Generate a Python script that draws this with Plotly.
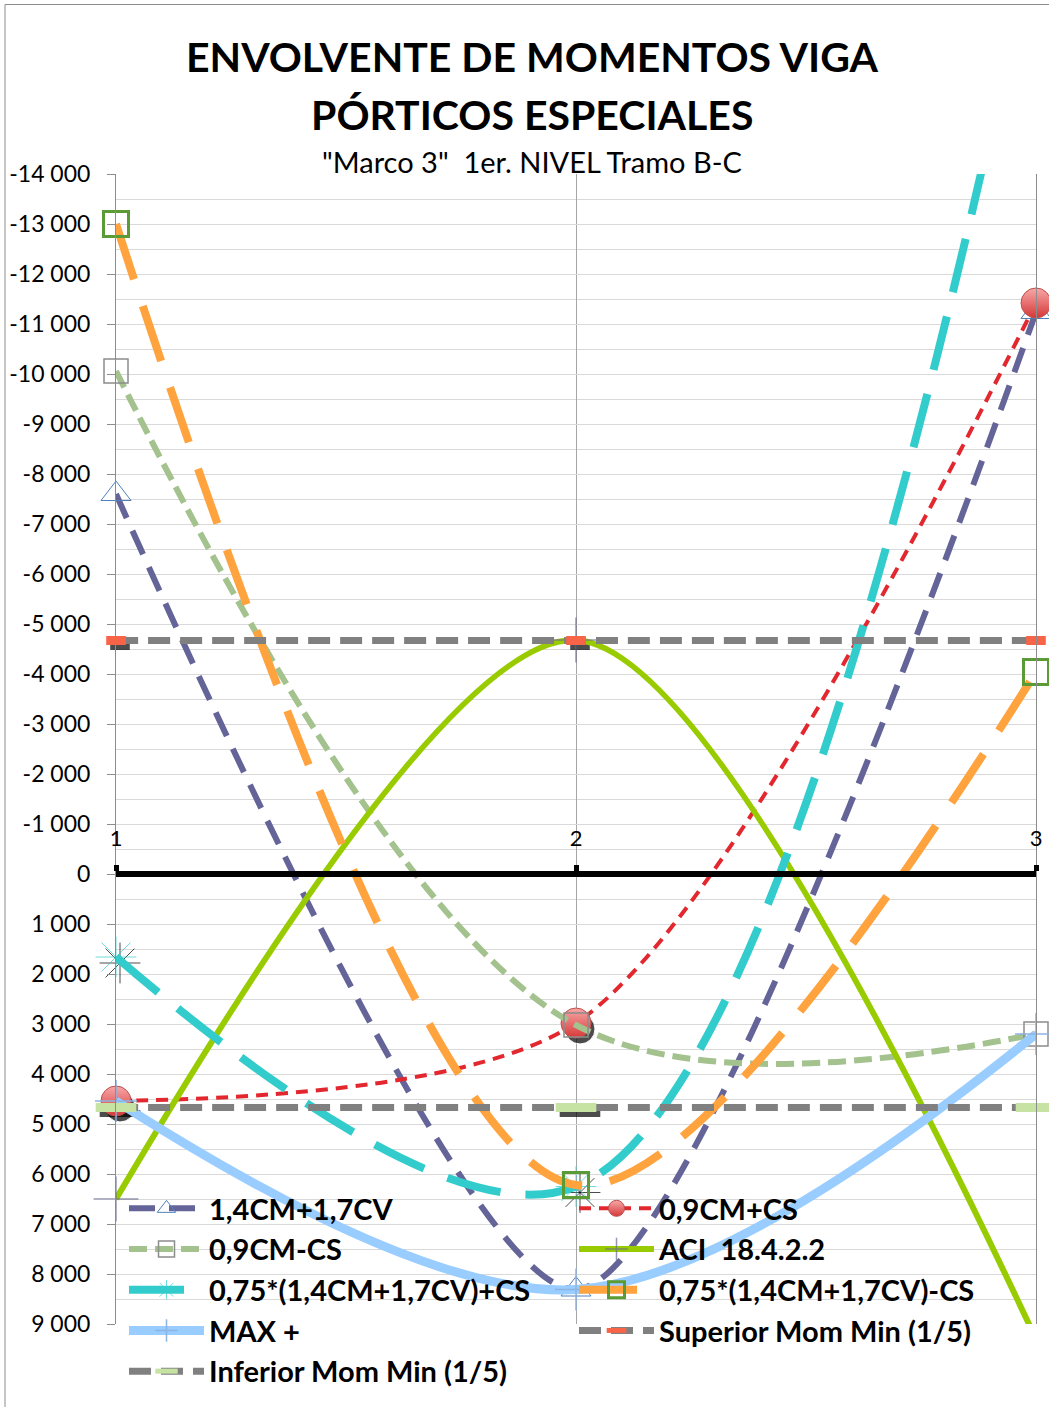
import plotly.graph_objects as go

# ---- data: moment envelope at the three stations of the span ----
stations = [1, 2, 3]
m_14cm_17cv = [-7600, 8310, -11240]          # 1,4CM+1,7CV
m_09cm_mas_cs = [4540, 2980, -11420]         # 0,9CM+CS
m_09cm_menos_cs = [-10060, 3020, 3200]       # 0,9CM-CS
m_aci = [6500, -4680, 9300]                  # ACI 18.4.2.2
m_075_mas_cs = [1660, 6250, -19000]          # 0,75*(1,4CM+1,7CV)+CS
m_075_menos_cs = [-13000, 6220, -4040]       # 0,75*(1,4CM+1,7CV)-CS
m_max_pos = [4540, 8310, 3200]               # MAX +
m_sup_min = [-4670, -4670, -4670]            # Superior Mom Min (1/5)
m_inf_min = [4670, 4670, 4670]               # Inferior Mom Min (1/5)

series_names = [
    "1,4CM+1,7CV", "0,9CM+CS", "0,9CM-CS", "ACI  18.4.2.2",
    "0,75*(1,4CM+1,7CV)+CS", "0,75*(1,4CM+1,7CV)-CS", "MAX +",
    "Superior Mom Min (1/5)", "Inferior Mom Min (1/5)",
]

y_ticks = list(range(-14000, 9001, 1000))
y_ticktext = [f"{v:,}".replace(",", " ") for v in y_ticks]
x_ticks = [1, 2, 3]
x_ticktext = ["1", "2", "3"]

# ---- geometry ----
W, H = 1049, 1407
ML, MR, MT, MB = 116, 13, 174, 83
PW, PH = W - ML - MR, H - MT - MB
Y_TOP, Y_BOT = -14000, 9000
X_MIN, X_MAX = 1, 3

def px_x(v):      # pixel distance -> data units along x
    return v * (X_MAX - X_MIN) / PW

def px_y(v):      # pixel distance -> data units along y (axis reversed: + is down)
    return v * (Y_BOT - Y_TOP) / PH

def paper_y(ypix):
    return ((MT + PH) - ypix) / PH

def paper_x(xpix):
    return (xpix - ML) / PW

SH_DX, SH_DY = px_x(4), px_y(6)

def visible_sizes(vals, size):
    return [size if Y_TOP <= v <= Y_BOT else 0 for v in vals]

FONT = "Lato"
fig = go.Figure()

# ---- marker shadows ----
def shadow(vals, symbol, size, width=None):
    mk = dict(symbol=symbol, size=visible_sizes(vals, size), color="black")
    if width is not None:
        mk["line"] = dict(width=width, color="black")
    fig.add_trace(go.Scatter(
        x=[s + SH_DX for s in stations], y=[v + SH_DY for v in vals],
        mode="markers", marker=mk, showlegend=False, hoverinfo="skip",
        cliponaxis=False))

shadow(m_09cm_mas_cs, "circle", 30)
shadow(m_075_mas_cs, "asterisk-open", 34, width=1)
shadow(m_sup_min, "line-ew-open", 14, width=7)
shadow(m_inf_min, "line-ew-open", 29, width=7)

# ---- series ----
def add_series(vals, name, rank, line, marker, smoothing=1.0):
    fig.add_trace(go.Scatter(
        x=stations, y=vals, name=name, legendrank=rank,
        mode="lines+markers", line=dict(shape="spline", smoothing=smoothing, **line),
        marker=marker, cliponaxis=False))

add_series(m_14cm_17cv, series_names[0], 1,
           dict(color="#646499", width=6, dash="26px,14px"),
           dict(symbol="triangle-up-open", size=26, color="#4F81BD", line=dict(width=1)),
           smoothing=0.7)
add_series(m_09cm_mas_cs, series_names[1], 2,
           dict(color="#E2282E", width=4, dash="12px,8px"),
           dict(symbol="circle", size=30, color="#F7A8A8",
                gradient=dict(type="vertical", color="#D63838"),
                line=dict(width=1, color="#C0504D")),
           smoothing=0.8)
add_series(m_09cm_menos_cs, series_names[2], 3,
           dict(color="#A3C28E", width=6, dash="18px,8px"),
           dict(symbol="square-open", size=24, color="#8C8C8C", line=dict(width=1.5)))
add_series(m_aci, series_names[3], 4,
           dict(color="#99CC00", width=6),
           dict(symbol="cross-thin-open", size=visible_sizes(m_aci, 32),
                color="#6B6B8F", line=dict(width=1.5)),
           smoothing=0.85)
add_series(m_075_mas_cs, series_names[4], 5,
           dict(color="#33CCCC", width=8, dash="55px,25px"),
           dict(symbol="asterisk-open", size=visible_sizes(m_075_mas_cs, 34),
                color="#33CCCC", line=dict(width=1)))
add_series(m_075_menos_cs, series_names[5], 6,
           dict(color="#FFA33F", width=8, dash="58px,28px"),
           dict(symbol="square-open", size=25, color="#5B9B35", line=dict(width=3)),
           smoothing=0.9)
add_series(m_max_pos, series_names[6], 7,
           dict(color="#99CCFF", width=9),
           dict(symbol="cross-thin-open", size=30, color="#8DB4E2", line=dict(width=1.5)))
add_series(m_sup_min, series_names[7], 8,
           dict(color="#808080", width=7, dash="22px,10px"),
           dict(symbol="line-ew-open", size=14, color="#F86448", line=dict(width=9)))
add_series(m_inf_min, series_names[8], 9,
           dict(color="#808080", width=7, dash="22px,10px"),
           dict(symbol="line-ew-open", size=29, color="#C6E3A4", line=dict(width=9)))

# ---- titles ----
title_x = paper_x(532)
annotations = [
    dict(text="<b>ENVOLVENTE DE MOMENTOS VIGA</b>", x=title_x, y=paper_y(56),
         font=dict(family=FONT, size=41, color="black")),
    dict(text="<b>PÓRTICOS ESPECIALES</b>", x=title_x, y=paper_y(114),
         font=dict(family=FONT, size=41, color="black")),
    dict(text='"Marco 3"  1er. NIVEL Tramo B-C', x=title_x, y=paper_y(162),
         font=dict(family=FONT, size=29, color="black")),
]
for a in annotations:
    a.update(xref="paper", yref="paper", xanchor="center", yanchor="middle",
             showarrow=False)

fig.update_layout(
    width=W, height=H,
    margin=dict(l=ML, r=MR, t=MT, b=MB, autoexpand=False),
    paper_bgcolor="white", plot_bgcolor="white",
    font=dict(family=FONT, color="black"),
    annotations=annotations,
    shapes=[dict(type="rect", xref="paper", yref="paper",
                 x0=paper_x(5), x1=paper_x(1100), y0=paper_y(1450), y1=paper_y(4.5),
                 line=dict(color="#8C8C8C", width=1), fillcolor="rgba(0,0,0,0)",
                 layer="below")],
    legend=dict(orientation="h", x=paper_x(124), xanchor="left",
                y=paper_y(1183), yanchor="top",
                entrywidth=360, entrywidthmode="pixels", itemwidth=75,
                font=dict(family=FONT, size=29, color="black", weight="bold"),
                bgcolor="rgba(0,0,0,0)", borderwidth=0, tracegroupgap=0),
    showlegend=True,
)

fig.update_yaxes(
    range=[Y_BOT, Y_TOP], tickvals=y_ticks, ticktext=y_ticktext,
    tickfont=dict(family=FONT, size=23, color="black"),
    ticks="outside", ticklen=8, tickcolor="#8C8C8C", ticklabelstandoff=12,
    showgrid=True, gridcolor="#D9D9D9", gridwidth=1,
    minor=dict(dtick=500, tick0=0, showgrid=True, gridcolor="#D9D9D9", ticks=""),
    showline=True, linecolor="#8C8C8C", linewidth=1, mirror=True,
    zeroline=False, automargin=False,
)
fig.update_xaxes(
    range=[X_MIN, X_MAX], tickvals=x_ticks, ticktext=x_ticktext,
    anchor="free", position=(Y_BOT - 0) / (Y_BOT - Y_TOP), side="top",
    tickfont=dict(family=FONT, size=22, color="black"),
    ticks="outside", ticklen=6, tickwidth=5, tickcolor="black", ticklabelstandoff=10,
    showgrid=True, gridcolor="#A6A6A6", gridwidth=1,
    showline=True, linecolor="black", linewidth=6,
    zeroline=False, automargin=False,
)

fig.write_html("out.html")
